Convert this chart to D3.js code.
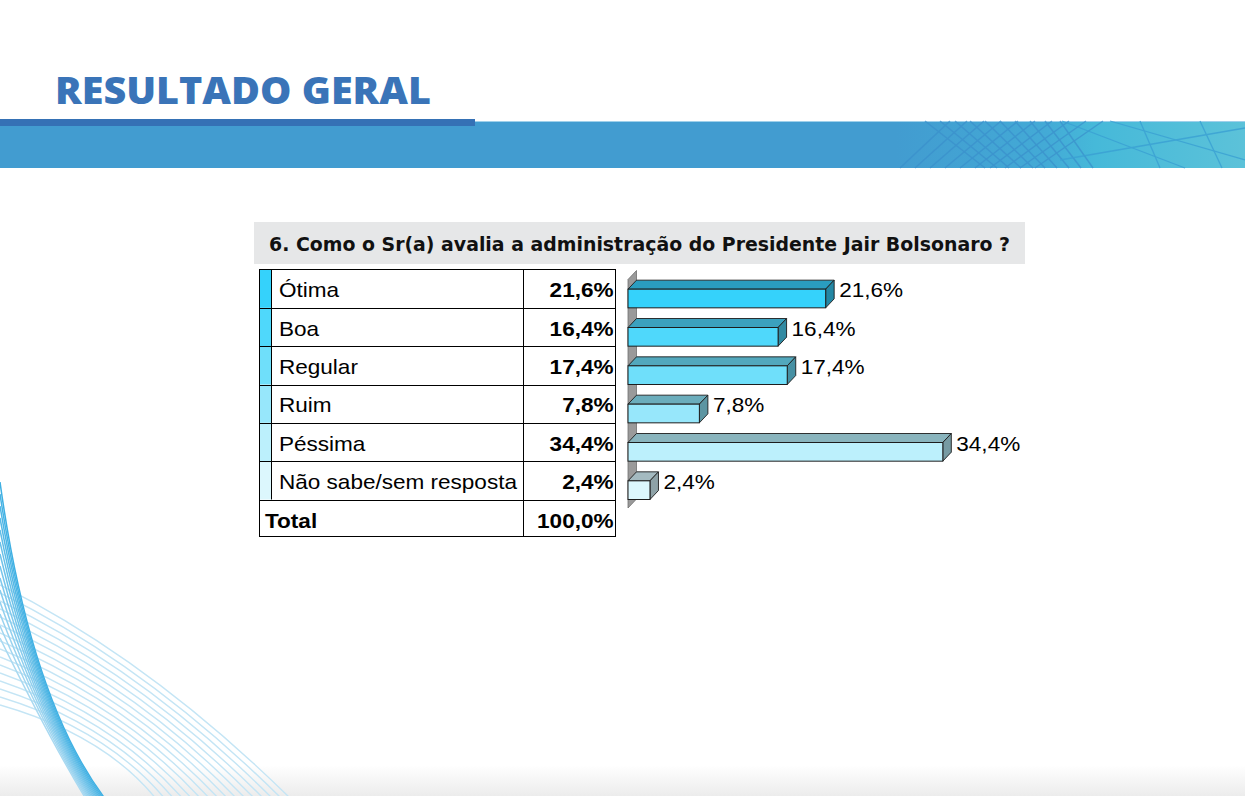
<!DOCTYPE html>
<html>
<head>
<meta charset="utf-8">
<script src="https://cdn.jsdelivr.net/npm/d3@7"></script>
<style>
  html, body { margin: 0; padding: 0; background: #fff; }
  svg { display: block; }
</style>
</head>
<body>
<div id="chart-container"></div>
<script>
const pageTitle = "RESULTADO GERAL";
const question = "6. Como o Sr(a) avalia a administração do Presidente Jair Bolsonaro ?";
const categories = ["Ótima", "Boa", "Regular", "Ruim", "Péssima", "Não sabe/sem resposta"];
const values = [21.6, 16.4, 17.4, 7.8, 34.4, 2.4];
const totalLabel = "Total";
const totalValue = 100.0;

const frontColors = ["#35d2fb", "#4fd8fb", "#6fdffa", "#97e7fb", "#bcf0fc", "#dcf7fd"];
const topColors = ["#2a9dbf", "#3ba1be", "#52a8bd", "#6badbc", "#89b4bd", "#a4bac0"];
const sideColors = ["#2387a4", "#318aa2", "#4690a3", "#5c95a2", "#779ba3", "#8ea2a7"];

const W = 1245, H = 796;
const pt = d3.formatLocale({ decimal: ",", thousands: ".", grouping: [3], currency: ["", ""] });
const fmt = v => pt.format(".1f")(v) + "%";

const svg = d3.select("#chart-container")
  .append("svg")
  .attr("width", W)
  .attr("height", H);

const defs = svg.append("defs");
const bandGrad = defs.append("linearGradient").attr("id", "bandGrad");
bandGrad.append("stop").attr("offset", "0%").attr("stop-color", "#429cd0");
bandGrad.append("stop").attr("offset", "72%").attr("stop-color", "#429cd0");
bandGrad.append("stop").attr("offset", "84%").attr("stop-color", "#43aad6");
bandGrad.append("stop").attr("offset", "88%").attr("stop-color", "#46b9d9");
bandGrad.append("stop").attr("offset", "100%").attr("stop-color", "#5cc2d9");
const floorGrad = defs.append("linearGradient").attr("id", "floorGrad")
  .attr("x1", 0).attr("x2", 0).attr("y1", 0).attr("y2", 1);
floorGrad.append("stop").attr("offset", "0%").attr("stop-color", "#fff");
floorGrad.append("stop").attr("offset", "100%").attr("stop-color", "#ececec");

// background decoration
svg.append("rect").attr("x", 0).attr("y", 765).attr("width", W).attr("height", 31)
  .attr("fill", "url(#floorGrad)");

const deco = svg.append("g").attr("fill", "none");
const quad = (a, c, b) => {
  const p = d3.path();
  p.moveTo(a[0], a[1]);
  p.quadraticCurveTo(c[0], c[1], b[0], b[1]);
  return p.toString();
};
d3.range(16).forEach(i => {
  deco.append("path")
    .attr("d", quad([0, 585 + i * 8], [150 - i * 3, 660 + i * 5], [292 - i * 9, 800]))
    .attr("stroke", "#c4e5f5").attr("stroke-width", 1.4);
});
const darkColor = d3.scaleLinear().domain([0, 13]).range(["#3fb0e3", "#a9d9f1"]);
d3.range(14).forEach(i => {
  deco.append("path")
    .attr("d", quad([0, 482 + i * 12], [30 + i * 1.5, 700 + i * 3], [106 - i * 1.5, 800]))
    .attr("stroke", darkColor(i)).attr("stroke-width", 1.5);
});

// header
svg.append("text")
  .attr("x", 55).attr("y", 104)
  .attr("font-family", "'Open Sans', Lato, sans-serif")
  .attr("font-weight", 800)
  .attr("font-size", 37)
  .attr("fill", "#3a74b8")
  .attr("textLength", 376)
  .attr("lengthAdjust", "spacingAndGlyphs")
  .text(pageTitle);

svg.append("rect").attr("x", 0).attr("y", 121).attr("width", W).attr("height", 47)
  .attr("fill", "url(#bandGrad)");
svg.append("line").attr("x1", 475).attr("x2", W).attr("y1", 121.5).attr("y2", 121.5)
  .attr("stroke", "#9fd0ea").attr("stroke-width", 1);
const hatch = svg.append("g").attr("stroke", "#3a8fcc").attr("stroke-width", 1.4).attr("opacity", 0.7);
d3.range(10).forEach(i => {
  hatch.append("line").attr("x1", 900 + i * 15).attr("y1", 168).attr("x2", 950 + i * 17).attr("y2", 121);
  hatch.append("line").attr("x1", 925 + i * 15).attr("y1", 121).attr("x2", 985 + i * 12).attr("y2", 168);
});
const hatch2 = svg.append("g").attr("stroke", "#3aa0d4").attr("stroke-width", 1.3).attr("opacity", 0.8);
[[1062, 121, 1185, 168], [1110, 121, 1245, 160], [1140, 121, 1160, 168], [1200, 121, 1222, 168], [1060, 160, 1245, 128]]
  .forEach(d => hatch2.append("line").attr("x1", d[0]).attr("y1", d[1]).attr("x2", d[2]).attr("y2", d[3]));
svg.append("rect").attr("x", 0).attr("y", 119).attr("width", 475).attr("height", 7)
  .attr("fill", "#3571b5");

// question box
svg.append("rect").attr("x", 254).attr("y", 222).attr("width", 771).attr("height", 42)
  .attr("fill", "#e6e7e8");
svg.append("text")
  .attr("x", 269).attr("y", 251)
  .attr("font-family", "'DejaVu Sans', Verdana, sans-serif")
  .attr("font-weight", "bold")
  .attr("font-size", 19)
  .attr("fill", "#111")
  .attr("textLength", 741)
  .attr("lengthAdjust", "spacingAndGlyphs")
  .text(question);

// table
const rowY = d3.scaleBand().domain(categories).range([269.5, 499.5]);
const bw = rowY.bandwidth();
const tLeft = 259.5, tStrip = 271.5, tSep = 523.5, tRight = 615.5, totalBottom = 536.5;
const stretch = 1.1;
const table = svg.append("g").attr("font-family", "'Liberation Sans', Arial, sans-serif")
  .attr("font-size", 20.5).attr("fill", "#000");

table.selectAll("rect.strip")
  .data(categories)
  .join("rect")
  .attr("class", "strip")
  .attr("x", tLeft).attr("y", d => rowY(d))
  .attr("width", tStrip - tLeft).attr("height", bw)
  .attr("fill", (d, i) => frontColors[i]);

table.selectAll("text.label")
  .data(categories)
  .join("text")
  .attr("class", "label")
  .attr("transform", d => `translate(279,${rowY(d) + bw / 2 + 8.5}) scale(${stretch},1)`)
  .text(d => d);

table.selectAll("text.val")
  .data(values)
  .join("text")
  .attr("class", "val")
  .attr("text-anchor", "end")
  .attr("font-weight", "bold")
  .attr("transform", (d, i) => `translate(613.5,${rowY(categories[i]) + bw / 2 + 8.5}) scale(${stretch},1)`)
  .text(d => fmt(d));

const totalTop = rowY.range()[1];
table.append("text")
  .attr("font-weight", "bold")
  .attr("transform", `translate(265,${totalTop + 28}) scale(${stretch},1)`)
  .text(totalLabel);
table.append("text")
  .attr("font-weight", "bold")
  .attr("text-anchor", "end")
  .attr("transform", `translate(613.5,${totalTop + 28}) scale(${stretch},1)`)
  .text(fmt(totalValue));

const grid = svg.append("g").attr("stroke", "#000").attr("stroke-width", 1).attr("fill", "none");
grid.append("rect").attr("x", tLeft).attr("y", 269.5)
  .attr("width", tRight - tLeft).attr("height", totalBottom - 269.5);
grid.selectAll("line.row")
  .data(categories)
  .join("line")
  .attr("class", "row")
  .attr("x1", tLeft).attr("x2", tRight)
  .attr("y1", d => Math.round(rowY(d) + bw) + 0.5)
  .attr("y2", d => Math.round(rowY(d) + bw) + 0.5);
grid.append("line").attr("x1", tStrip).attr("x2", tStrip).attr("y1", 269.5).attr("y2", totalTop);
grid.append("line").attr("x1", tSep).attr("x2", tSep).attr("y1", 269.5).attr("y2", totalBottom);

// 3D bars
const x = d3.scaleLinear().domain([0, 35]).range([628, 948.3]);
const dx = 8.5, dy = 9;
const chart = svg.append("g");
const [y0, y1] = rowY.range();
const x0 = x(0);

chart.append("path")
  .attr("d", `M${x0},${y0 + 10}L${x0 + dx},${y0 + 10 - dy}L${x0 + dx},${y1 - 0.5}L${x0},${y1 + 8.5}Z`)
  .attr("fill", "#9a9a9a").attr("stroke", "#6f6f6f").attr("stroke-width", 0.8);

const bars = chart.selectAll("g.bar")
  .data(values)
  .join("g")
  .attr("class", "bar");

const frontTop = (d, i) => rowY(categories[i]) + bw / 2 + 0.5;
const frontH = bw / 2 - 0.5;

bars.append("path")
  .attr("d", (d, i) => {
    const t = frontTop(d, i), xe = x(d);
    return `M${x0},${t}L${x0 + dx},${t - dy}L${xe + dx},${t - dy}L${xe},${t}Z`;
  })
  .attr("fill", (d, i) => topColors[i])
  .attr("stroke", "#1d1d1d").attr("stroke-width", 0.9).attr("stroke-linejoin", "round");

bars.append("path")
  .attr("d", (d, i) => {
    const t = frontTop(d, i), xe = x(d);
    return `M${xe},${t}L${xe + dx},${t - dy}L${xe + dx},${t - dy + frontH}L${xe},${t + frontH}Z`;
  })
  .attr("fill", (d, i) => sideColors[i])
  .attr("stroke", "#1d1d1d").attr("stroke-width", 0.9).attr("stroke-linejoin", "round");

bars.append("rect")
  .attr("x", x0)
  .attr("y", (d, i) => frontTop(d, i))
  .attr("width", d => x(d) - x0)
  .attr("height", frontH)
  .attr("fill", (d, i) => frontColors[i])
  .attr("stroke", "#1d1d1d").attr("stroke-width", 1);

bars.append("text")
  .attr("font-family", "'Liberation Sans', Arial, sans-serif")
  .attr("font-size", 20.5)
  .attr("fill", "#000")
  .attr("transform", (d, i) => `translate(${x(d) + dx + 5},${frontTop(d, i) + 8.3}) scale(${stretch},1)`)
  .text(d => fmt(d));
</script>
</body>
</html>
